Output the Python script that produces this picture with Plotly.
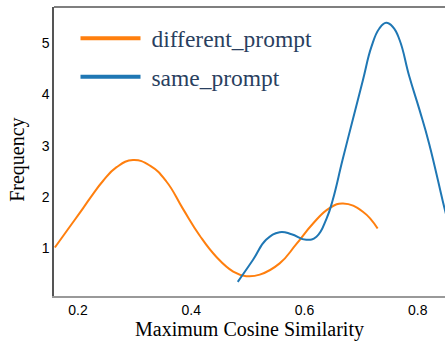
import plotly.graph_objects as go

# different_prompt KDE curve
diff_x = [0.159, 0.185, 0.209, 0.226, 0.244, 0.268, 0.297, 0.327, 0.356, 0.385,
          0.415, 0.444, 0.474, 0.497, 0.521, 0.556, 0.585, 0.615, 0.644, 0.668,
          0.703, 0.729]
diff_y = [1.01, 1.41, 1.78, 2.05, 2.31, 2.58, 2.72, 2.61, 2.30, 1.77,
          1.24, 0.83, 0.54, 0.45, 0.48, 0.70, 1.07, 1.48, 1.78, 1.87,
          1.71, 1.38]

# same_prompt KDE curve
same_x = [0.482, 0.509, 0.532, 0.556, 0.577, 0.603, 0.621, 0.639, 0.650, 0.667,
          0.685, 0.703, 0.718, 0.732, 0.744, 0.756, 0.768, 0.785, 0.803, 0.820,
          0.844, 0.850]
same_y = [0.34, 0.77, 1.16, 1.31, 1.27, 1.16, 1.22, 1.58, 1.95, 2.72,
          3.50, 4.28, 4.93, 5.29, 5.40, 5.32, 5.06, 4.35, 3.70, 3.04,
          1.92, 1.65]

x_ticks = [0.2, 0.4, 0.6, 0.8]
y_ticks = [1, 2, 3, 4, 5]

ORANGE = "#ff7f0e"
BLUE = "#1f77b4"

fig = go.Figure()
fig.add_trace(go.Scatter(x=diff_x, y=diff_y, mode="lines", showlegend=False, hoverinfo="skip",
                         line=dict(color=ORANGE, width=2, shape="spline", smoothing=1.3)))
fig.add_trace(go.Scatter(x=same_x, y=same_y, mode="lines", showlegend=False, hoverinfo="skip",
                         line=dict(color=BLUE, width=2, shape="spline", smoothing=1.3)))
# legend entries with thicker lines
fig.add_trace(go.Scatter(x=[None], y=[None], mode="lines", name=" different_prompt",
                         legendgroup="a", line=dict(color=ORANGE, width=4)))
fig.add_trace(go.Scatter(x=[None], y=[None], mode="lines", name=" same_prompt",
                         legendgroup="b", line=dict(color=BLUE, width=4)))

fig.update_layout(
    width=445, height=341,
    margin=dict(l=54, r=0, t=7, b=45),
    plot_bgcolor="white", paper_bgcolor="white",
    showlegend=True,
    legend=dict(x=0.055, y=0.967, xanchor="left", yanchor="top",
                font=dict(family="Liberation Serif", size=23.5, color="#2a3f5f"),
                bgcolor="rgba(0,0,0,0)", itemwidth=60, tracegroupgap=5),
    xaxis=dict(range=[0.1575, 0.848], tickvals=x_ticks, ticktext=[str(v) for v in x_ticks],
               showgrid=False, zeroline=False, showline=True, linecolor="#999999", linewidth=2,
               ticks="", tickfont=dict(family="Liberation Sans", size=14, color="black"),
               title=dict(text="Maximum Cosine Similarity", standoff=0,
                          font=dict(family="Liberation Serif", size=20, color="black"))),
    yaxis=dict(range=[0.0625, 5.71], tickvals=y_ticks,
               showgrid=False, zeroline=False, showline=True, linecolor="#555555", linewidth=1.5,
               ticks="", tickfont=dict(family="Liberation Sans", size=14, color="black")),
    annotations=[dict(text="Frequency", textangle=-90, xref="paper", yref="paper",
                      x=-0.093, y=0.47, xanchor="center", yanchor="middle", showarrow=False,
                      font=dict(family="Liberation Serif", size=20, color="black"))],
    shapes=[dict(type="line", xref="paper", yref="paper", x0=0, x1=1, y0=1, y1=1,
                 line=dict(color="#555555", width=1.5))],
)

fig.write_html("out.html", config={"displayModeBar": False},
               post_script="document.body.style.margin='0';")
